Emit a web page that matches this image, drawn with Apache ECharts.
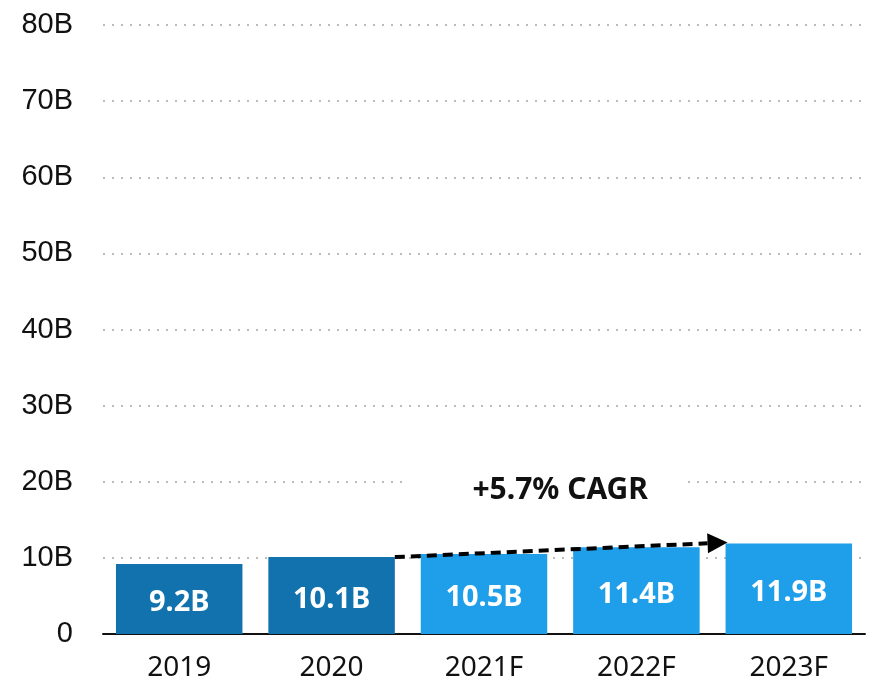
<!DOCTYPE html>
<html>
<head>
<meta charset="utf-8">
<script src="https://cdn.jsdelivr.net/npm/echarts@6/dist/echarts.min.js"></script>
<style>
  html, body { margin: 0; padding: 0; background: #fff; }
  #chart { width: 872px; height: 699px; }
</style>
</head>
<body>
<div id="chart"></div>
<script>
var years = ['2019', '2020', '2021F', '2022F', '2023F'];
var revenue = [9.2, 10.1, 10.5, 11.4, 11.9];   // billions
var isForecast = [false, false, true, true, true];
var cagrText = '+5.7% CAGR';
var cagrFrom = 1, cagrTo = 4;   // arrow runs from 2020 to 2023F
var cagrLabelValue = 18.9;

var darkBlue = '#1172ae';
var lightBlue = '#1f9eea';

var chart = echarts.init(document.getElementById('chart'));

var option = {
  animation: false,
  grid: { left: 103, right: 7, top: 25, bottom: 65 },
  xAxis: {
    type: 'category',
    data: years,
    axisTick: { show: false },
    axisLine: { lineStyle: { color: '#111', width: 2 } },
    axisLabel: {
      color: '#111',
      fontFamily: 'Noto Sans',
      fontSize: 28,
      margin: 20
    }
  },
  yAxis: {
    type: 'value',
    min: 0,
    max: 80,
    interval: 10,
    axisLine: { show: false },
    axisTick: { show: false },
    axisLabel: {
      color: '#111',
      fontFamily: 'Liberation Sans',
      fontSize: 29,
      margin: 30,
      formatter: function (v) { return v === 0 ? '0' : v + 'B'; }
    },
    splitLine: {
      lineStyle: { color: '#bbbbbb', type: [2, 7], width: 2 }
    }
  },
  series: [{
    type: 'bar',
    barWidth: '83%',
    data: revenue.map(function (v, i) {
      return { value: v, itemStyle: { color: isForecast[i] ? lightBlue : darkBlue } };
    }),
    label: {
      show: true,
      position: 'inside',
      offset: [0, 4],
      color: '#fff',
      fontFamily: 'Noto Sans',
      fontWeight: 'bold',
      fontSize: 29,
      formatter: function (p) { return p.value + 'B'; }
    }
  }]
};

chart.setOption(option);

// CAGR arrow + label, positioned from the data
function drawCagr () {
  var p0 = chart.convertToPixel({ gridIndex: 0 }, [years[0], 0]);
  var p1 = chart.convertToPixel({ gridIndex: 0 }, [years[1], 0]);
  var halfBar = (p1[0] - p0[0]) * 0.83 / 2;

  var a = chart.convertToPixel({ gridIndex: 0 }, [years[cagrFrom], revenue[cagrFrom]]);
  var b = chart.convertToPixel({ gridIndex: 0 }, [years[cagrTo], revenue[cagrTo]]);
  var x1 = a[0] + halfBar, y1 = a[1];
  var tipX = b[0] - halfBar + 2, tipY = b[1] - 1;

  var dx = tipX - x1, dy = tipY - y1;
  var len = Math.sqrt(dx * dx + dy * dy);
  var ux = dx / len, uy = dy / len;
  var headLen = 20, headHalf = 10;
  var bx = tipX - ux * headLen, by = tipY - uy * headLen;

  var mid = chart.convertToPixel({ gridIndex: 0 }, [years[2], cagrLabelValue]);
  var mid2 = chart.convertToPixel({ gridIndex: 0 }, [years[3], cagrLabelValue]);
  var padL = 68, padR = 34;

  chart.setOption({
    graphic: [
      {
        type: 'text',
        x: (mid[0] + mid2[0]) / 2 - (padL - padR) / 2,
        y: mid[1],
        z: 10,
        style: {
          text: cagrText,
          fill: '#111',
          font: 'bold 30px "Noto Sans"',
          align: 'center',
          verticalAlign: 'middle',
          backgroundColor: '#fff',
          padding: [6, padR, 6, padL]
        }
      },
      {
        type: 'line',
        z: 10,
        shape: { x1: x1, y1: y1, x2: bx, y2: by },
        style: { stroke: '#000', lineWidth: 4, lineDash: [10, 6] }
      },
      {
        type: 'polygon',
        z: 10,
        shape: {
          points: [
            [tipX, tipY],
            [bx - uy * headHalf, by + ux * headHalf],
            [bx + uy * headHalf, by - ux * headHalf]
          ]
        },
        style: { fill: '#000' }
      }
    ]
  });
}
drawCagr();
</script>
</body>
</html>
